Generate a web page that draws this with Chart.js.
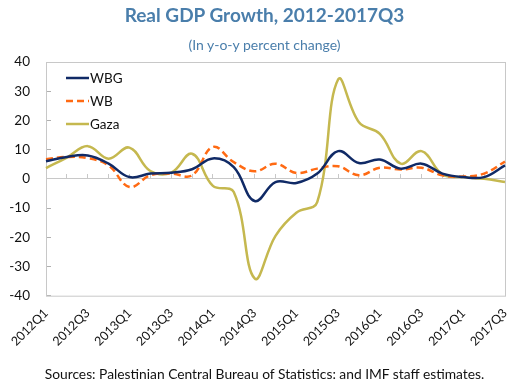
<!DOCTYPE html>
<html>
<head>
<meta charset="utf-8">
<script src="https://cdn.jsdelivr.net/npm/chart.js@4.4.1/dist/chart.umd.min.js"></script>
<style>
  body { margin: 0; background: #fff; }
  #wrap { position: relative; width: 507px; height: 381px; font-family: Lato, "Open Sans", sans-serif; }
  .txt { position: absolute; left: 11px; width: 507px; text-align: center; white-space: nowrap; }
  #title { top: 4px; font-size: 19px; line-height: 22px; font-weight: bold; color: #4a7eab; }
  #subtitle { top: 36px; font-size: 14px; line-height: 17px; color: #4a7eab; }
  #source { top: 366px; font-size: 13.8px; line-height: 16px; color: #111; }
  canvas { position: absolute; left: 0; top: 0; }
</style>
</head>
<body>
<div id="wrap">
  <canvas id="gdpView" width="507" height="381"></canvas>
  <div id="title" class="txt">Real GDP Growth, 2012-2017Q3</div>
  <div id="subtitle" class="txt">(In y-o-y percent change)</div>
  <div id="source" class="txt">Sources: Palestinian Central Bureau of Statistics: and IMF staff estimates.</div>
</div>
<script>
// trimestres
const quarters = ["2012Q1", "2012Q2", "2012Q3", "2012Q4", "2013Q1", "2013Q2", "2013Q3", "2013Q4",
  "2014Q1", "2014Q2", "2014Q3", "2014Q4", "2015Q1", "2015Q2", "2015Q3", "2015Q4",
  "2016Q1", "2016Q2", "2016Q3", "2016Q4", "2017Q1", "2017Q2", "2017Q3"];

// crescimento real do PIB (% a/a)
const wbgValues = [6, 7.5, 8, 5.2, 0.6, 1.8, 2.1, 3.3, 7, 4, -7.6, -1.1, -1.4, 1.8, 9.5, 5.4, 6.6, 3.5, 5.2, 1.8, 0.6, 0.6, 4.6];
const wbValues = [6.7, 7.5, 7.1, 4.6, -2.8, 1.2, 1.8, 1.2, 10.9, 5.7, 2.6, 5.2, 2, 3.5, 4.3, 1.2, 3.8, 3.2, 3.8, 1.2, 0.8, 1.8, 5.9];
const gazaValues = [3.7, 7.3, 11.2, 6.9, 10.7, 2.7, 2.1, 8.6, -2.4, -4.5, -34.1, -19.5, -11.6, -8, 34, 19.4, 15.4, 5.2, 9.5, 1.5, 0.6, 0, -1.1];

// eixo y
const yTicks = [-40, -30, -20, -10, 0, 10, 20, 30, 40];

const fontFamily = "Lato, 'Open Sans', sans-serif";
const frameColor = "#c8c8c8";

// moldura da área do gráfico
const framePlugin = {
    id: "frame",
    beforeDatasetsDraw(chart) {
        const { ctx, chartArea } = chart;
        ctx.save();
        ctx.strokeStyle = frameColor;
        ctx.lineWidth = 1;
        ctx.strokeRect(chartArea.left + 0.5, chartArea.top + 0.5, chartArea.width, chartArea.height);
        ctx.restore();
    }
};

// legenda dentro do gráfico (canto superior esquerdo)
const insideLegend = {
    id: "insideLegend",
    afterDraw(chart) {
        const { ctx, chartArea } = chart;
        ctx.save();
        ctx.font = "13.5px " + fontFamily;
        ctx.textBaseline = "middle";
        chart.data.datasets.forEach((ds, i) => {
            const x = chartArea.left + 20;
            const y = chartArea.top + 16 + i * 23;
            ctx.strokeStyle = ds.borderColor;
            ctx.lineWidth = ds.borderWidth;
            ctx.setLineDash(ds.borderDash || []);
            ctx.beginPath();
            ctx.moveTo(x, y);
            ctx.lineTo(x + 23, y);
            ctx.stroke();
            ctx.setLineDash([]);
            ctx.fillStyle = "#111";
            ctx.fillText(ds.label, x + 24, y + 1);
        });
        ctx.restore();
    }
};

const gdpView = document.getElementById("gdpView").getContext("2d");

new Chart(gdpView, {
    type: "line",
    data: {
        labels: quarters,
        datasets: [
            { label: "WBG", data: wbgValues, borderColor: "#102a66", borderWidth: 2.5, tension: 0.4, pointRadius: 0 },
            { label: "WB", data: wbValues, borderColor: "#ff6a13", borderWidth: 2.5, borderDash: [7, 4], tension: 0.4, pointRadius: 0 },
            { label: "Gaza", data: gazaValues, borderColor: "#c5b84f", borderWidth: 2.5, tension: 0.4, pointRadius: 0 },
        ],
    },
    options: {
        responsive: false,
        animation: false,
        layout: { padding: { left: 6, right: 2, top: 62, bottom: 30 } },
        plugins: {
            legend: { display: false },
            tooltip: { enabled: false },
        },
        scales: {
            x: {
                type: "category",
                grid: { display: false },
                border: { display: false },
                ticks: {
                    autoSkip: false,
                    maxRotation: 45,
                    minRotation: 45,
                    color: "#111",
                    padding: 2,
                    font: { family: fontFamily, size: 12.5 },
                    callback: (v, i) => (i % 2 === 0 ? quarters[i] : ""),
                },
                // não deixa o rótulo girado empurrar a área do gráfico
                afterFit: (axis) => { axis.paddingLeft = 0; axis.paddingRight = 0; },
            },
            // linha do zero com marcas
            xZero: {
                type: "category",
                labels: quarters,
                position: { y: 0 },
                border: { display: true, color: frameColor, width: 1 },
                grid: { drawOnChartArea: false, drawTicks: true, tickLength: -5, color: frameColor },
                ticks: { display: false },
            },
            y: {
                min: -40,
                max: 40,
                afterBuildTicks: (axis) => { axis.ticks = yTicks.map(v => ({ value: v })); },
                afterFit: (axis) => { axis.width = 40; axis.paddingTop = 0; },
                border: { display: true, color: "#b0b0b0" },
                grid: { drawOnChartArea: false, tickLength: -5, color: "#b0b0b0" },
                ticks: { color: "#111", padding: 21, font: { family: fontFamily, size: 13.5 } },
            },
        },
    },
    plugins: [framePlugin, insideLegend],
});
</script>
</body>
</html>
